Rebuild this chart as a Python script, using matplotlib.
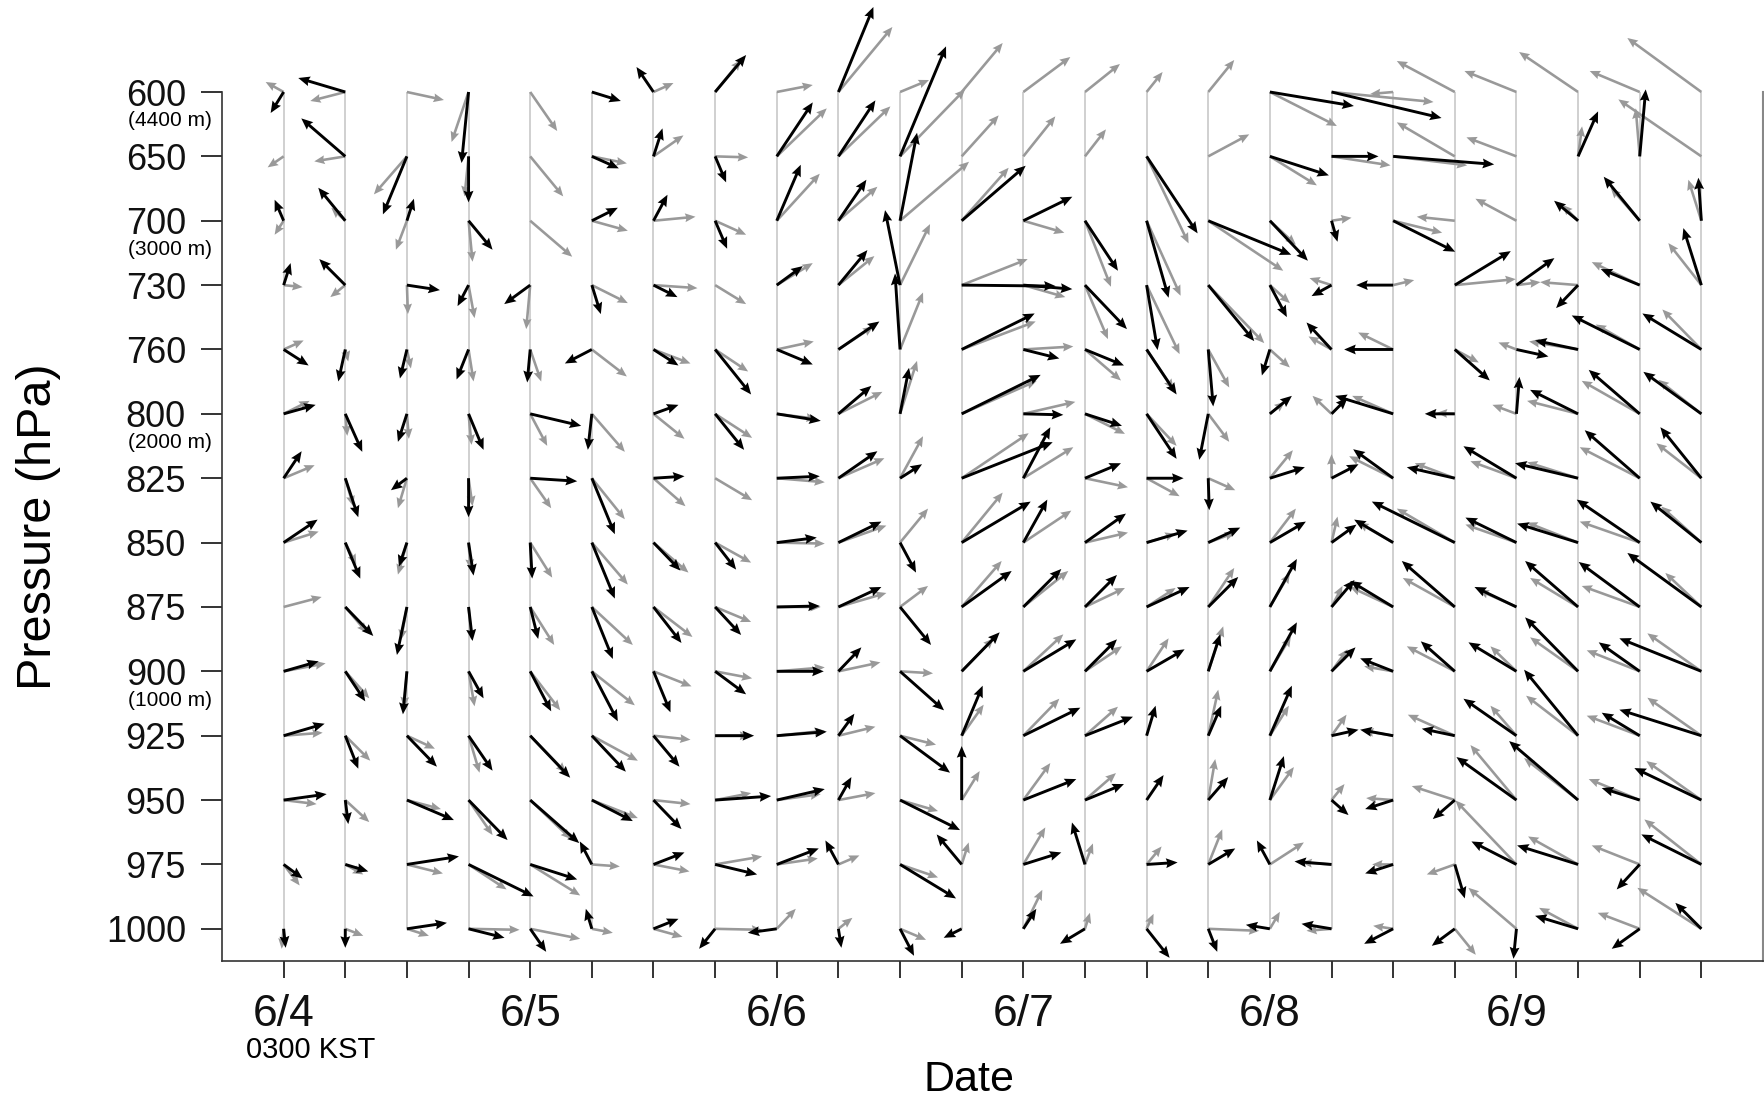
"""
Vertical profiles of wind vectors (black and gray arrows) every 6 hours,
6/4 0300 KST to 6/9 2100 KST, 600-1000 hPa.
"""

import numpy as np
import matplotlib
matplotlib.use("Agg")
import matplotlib.pyplot as plt

nan = np.nan

levels = [600, 650, 700, 730, 760, 800, 825, 850, 875, 900, 925, 950, 975, 1000]
height_notes = {600: "(4400 m)", 700: "(3000 m)", 800: "(2000 m)", 900: "(1000 m)"}
day_labels = ["6/4", "6/5", "6/6", "6/7", "6/8", "6/9"]
n_times = 24  # 6-hourly

# wind components, one row per time step, one value per level (600 -> 1000 hPa)
black_u = [
    [-13, nan, -9, 7, 25, 32, 18, 34, nan, 35, 41, 43, 19, 2],
    [-47, -44, -27, -26, -7, 17, 13, 15, 28, 20, 13, 3, 23, 0],
    [nan, -24, 7, 33, -7, -9, -16, -8, -10, -4, 30, 47, 52, 40],
    [-7, 0, 24, -11, -12, 15, 0, 5, 4, 15, 24, 39, 65, 36],
    [nan, nan, nan, -26, -3, 51, 47, 2, 8, 21, 40, 49, 47, 16],
    [29, 27, 26, 9, -27, -4, 23, 23, 21, 26, 34, 41, -12, -6],
    [-17, 9, 14, 24, 25, 25, 31, 27, 28, 17, 26, 28, 31, 25],
    [31, 11, 12, nan, 36, 29, nan, 21, 26, 31, 39, 56, 42, -16],
    [nan, 36, 24, 26, 36, 44, 43, 40, 43, 47, 50, 48, 42, -29],
    [35, 37, 28, 29, 41, 33, 39, 43, 43, 23, 16, 13, -13, 3],
    [nan, 46, 17, -15, -5, 9, 22, 16, 31, 44, 50, 60, 56, 14],
    [nan, nan, 64, 94, 73, 79, 91, 69, 50, 38, 21, 0, -25, -18],
    [nan, nan, 49, 49, 36, 40, 27, 24, 38, 53, 57, 53, 38, 13],
    [nan, nan, 33, 42, 39, 37, 36, 41, 32, 32, 48, 39, -13, -25],
    [nan, 51, 22, 11, 30, 30, 37, 41, 43, 38, 9, 17, 31, 23],
    [nan, nan, 83, 46, 5, -9, 1, 32, 30, 12, 13, 20, 27, 9],
    [84, 59, 38, 17, -8, 22, 35, 36, 27, 27, 22, 14, -13, -24],
    [110, 47, 6, -20, -25, 16, 27, 25, 23, 24, 27, 17, -37, -30],
    [nan, 101, 62, -37, -49, -58, -40, -39, -43, -33, -33, -28, -28, -29],
    [nan, nan, nan, 56, 35, -30, -48, -83, -53, -34, -33, -22, 10, -23],
    [nan, nan, nan, 38, 32, 3, -53, -51, -42, -48, -53, -60, -45, -3],
    [nan, 20, -24, -22, -43, -48, -63, -61, -53, -53, -54, -69, -61, -43],
    [nan, 6, -36, -39, -68, -51, -55, -63, -61, -41, -38, -38, -23, -28],
    [nan, nan, -3, -18, -59, -58, -41, -51, -74, -82, -82, -67, -60, -26],
]
black_v = [
    [-21, nan, 21, 22, -16, 9, 27, 23, nan, 10, 12, 6, -14, -19],
    [14, 38, 33, 26, -32, -38, -39, -36, -29, -30, -33, -24, -7, -19],
    [nan, -58, 22, -5, -29, -28, -12, -24, -48, -43, -31, -20, 8, 6],
    [-71, -46, -29, -21, -30, -36, -39, -33, -34, -27, -35, -40, -32, -9],
    [nan, nan, nan, -19, -33, -12, -3, -36, -32, -40, -42, -43, -15, -23],
    [-9, -12, 13, -29, -14, -36, -56, -56, -52, -50, -36, -21, 23, 20],
    [25, 28, 26, -12, -16, 9, 2, -28, -36, -41, -31, -29, 12, 10],
    [37, -26, -28, nan, -45, -36, nan, -27, -28, -23, 0, 4, -10, -20],
    [nan, 54, 56, 19, -15, -7, 2, 5, 1, 0, 4, 11, 16, -4],
    [85, 56, 41, 35, 28, 28, 27, 21, 20, 24, 22, 23, 24, -19],
    [nan, 110, 88, 75, 76, 46, 14, -30, -38, -39, -37, -30, -34, -27],
    [nan, nan, 55, -1, 36, 39, 36, 41, 36, 39, 50, 54, 30, -9],
    [nan, nan, 24, -4, -9, -1, 51, 43, 38, 32, 28, 21, 12, 20],
    [nan, nan, -50, -44, -16, -12, 15, 29, 32, 32, 19, 16, 42, -15],
    [nan, -77, -77, -65, -45, -45, 0, 12, 20, 22, 30, 25, 2, -29],
    [nan, nan, -34, -56, -57, -46, -32, 15, 30, 37, 30, 23, 16, -23],
    [-14, -19, -40, -32, -26, 18, 11, 21, 48, 49, 50, 44, 24, 4],
    [-26, 0, -21, -11, 27, 16, 14, 18, 27, 24, 6, -15, 3, 5],
    [nan, -8, -31, 0, 0, 18, 29, 23, 26, 13, 6, -9, -9, -15],
    [nan, nan, nan, 34, -31, 0, 11, 41, 46, 30, 7, -19, -34, -17],
    [nan, nan, nan, 27, -7, 37, 32, 25, 20, 29, 37, 43, 23, -30],
    [nan, 45, 20, -23, 9, 24, 15, 19, 46, 54, 66, 59, 19, 13],
    [nan, 67, 44, 16, 34, 44, 48, 43, 45, 29, 23, 12, -25, -20],
    [nan, nan, 43, 57, 36, 42, 51, 41, 54, 33, 26, 32, 30, 26],
]
gray_u = [
    [-18, -16, -9, 19, 20, 26, 31, 35, 38, 42, 39, 33, 16, -2],
    [-35, -31, -14, -15, 3, 2, 8, 11, 22, 24, 25, 24, 18, 18],
    [37, -33, -11, 1, 4, 2, -9, -9, -6, -3, 28, 34, 36, 22],
    [-17, -4, 4, 6, 5, 3, 4, 2, 3, 6, 11, 24, 38, 51],
    [27, 33, 42, -4, 11, 17, 21, 22, 24, 30, 36, 41, 50, 50],
    [nan, 35, 36, 36, 35, 33, 33, 36, 41, 43, 46, 46, 28, 21],
    [20, 30, 42, 44, 37, 31, 32, 35, 39, 38, 37, 37, 36, 29],
    [26, 33, 31, 31, 33, 37, 37, 36, 36, 37, 35, 36, 47, 47],
    [36, 50, 43, 36, 37, 40, 48, 48, 44, 48, 48, 44, 41, 19],
    [54, 52, 39, 36, 35, 44, 46, 48, 48, 42, 37, 37, 21, 14],
    [29, 65, 69, 30, 23, 17, 23, 28, 28, 33, 36, 38, 38, 26],
    [41, 37, 47, 66, 74, 75, 67, 41, 40, 32, 22, 18, 7, nan],
    [47, 32, 41, 42, 50, 52, 50, 48, 45, 40, 36, 27, 22, 19],
    [35, 21, 26, 23, 36, 40, 43, 43, 40, 37, 33, 31, 8, 5],
    [16, 42, 34, 33, 27, 30, 33, 29, 29, 22, nan, nan, 15, 7],
    [26, 41, 75, 56, 21, 21, 27, 27, 26, 15, 10, 7, 14, 51],
    [67, 47, 26, 20, 20, 15, 23, 26, 20, 21, 19, 24, 34, 10],
    [102, 59, 20, -22, -23, -19, 0, 6, 11, 16, 15, 13, -30, -25],
    [-23, 74, 49, 21, -35, -41, -44, -35, -43, -29, -30, -27, -21, -20],
    [-58, -58, -38, 61, 24, -18, -40, -58, -52, -48, -47, -43, -28, 21],
    [-52, -50, -41, 24, -18, -24, -46, -51, -38, -26, -26, -46, -61, -48],
    [-59, 4, -16, -38, -49, -51, -51, -51, -48, -48, -52, -54, -50, -39],
    [-50, -4, -29, -48, -44, -58, -60, -60, -58, -53, -53, -51, -48, -42],
    [-74, -83, -13, -33, -39, -43, -45, -40, -36, -54, -54, -55, -57, -64],
]
gray_v = [
    [10, -11, -14, -2, 9, 13, 13, 11, 10, 8, 3, -4, -21, -20],
    [-9, -5, 13, -12, -12, -22, -28, -22, -26, -27, -25, -22, -10, -7],
    [-8, -38, -29, -29, -19, -25, -30, -32, -33, -36, -13, -9, -9, -7],
    [-50, -40, -41, -33, -32, -31, -28, -27, -33, -35, -37, -35, -25, -1],
    [-39, -40, -36, -44, -32, -32, -30, -35, -38, -39, -37, -39, -31, -10],
    [nan, -7, -10, -18, -27, -38, -41, -42, -38, -34, -25, -18, -2, -4],
    [9, 21, 4, -3, -14, -25, -28, -30, -30, -15, -4, -4, -7, -8],
    [32, -1, -14, -19, -22, -24, -22, -20, -15, -7, 0, 7, 8, -1],
    [7, 48, 47, 22, 8, -5, -4, -1, 0, 4, 5, 6, 6, 20],
    [65, 50, 34, 29, 23, 22, 20, 17, 14, 9, 9, 7, 9, 11],
    [12, 67, 59, 61, 57, 53, 42, 34, 21, -2, -9, -11, -13, -11],
    [49, 41, 53, 26, 28, 33, 45, 50, 46, 33, 31, 29, 22, nan],
    [35, 40, -12, -12, 3, 12, 31, 32, 36, 37, 37, 37, 37, 39],
    [28, 27, -66, -54, -31, -20, -9, 10, 19, 25, 29, 27, 21, 16],
    [20, -87, -75, -69, -40, -32, -18, 9, 19, 33, nan, nan, 18, 15],
    [32, 22, -50, -58, -38, -28, -12, 10, 39, 45, 46, 41, 35, -2],
    [-34, -29, -24, -18, -18, 12, 28, 34, 34, 35, 30, 33, 22, 17],
    [-10, -9, 3, 7, 13, 18, 24, 26, 21, 22, 21, 16, 2, -2],
    [-2, -9, -12, 5, 17, 18, 22, 20, 20, 5, 5, 2, 0, 3],
    [31, 34, 4, 6, -13, 1, 15, 34, 29, 25, 21, 14, -10, -26],
    [21, 19, 22, 3, 7, 9, 17, 18, 17, 25, 30, 55, 64, 41],
    [40, 30, 16, 3, 8, 13, 16, 20, 29, 34, 40, 42, 28, 21],
    [21, 48, 33, 23, 25, 33, 31, 21, 21, 21, 20, 21, 19, 16],
    [54, 57, 41, 42, 40, 34, 35, 36, 34, 38, 38, 39, 45, 41],
]


def draw_arrows(ax, u, v, color, shaft, zorder):
    """Draws one set of wind arrows at every (time, level) point."""
    u = np.array(u, dtype=float)
    v = np.array(v, dtype=float)
    t, k = np.meshgrid(np.arange(n_times), np.arange(len(levels)), indexing="ij")
    ok = np.isfinite(u) & np.isfinite(v)
    ax.quiver(t[ok], k[ok], u[ok], v[ok], color=color,
              angles="uv", scale_units="dots", scale=1, units="dots",
              width=shaft, headwidth=3.4, headlength=4.0, headaxislength=3.6,
              pivot="tail", clip_on=False, zorder=zorder)


def main():
    plt.rcParams["font.family"] = ["Liberation Sans", "DejaVu Sans"]
    fig = plt.figure(figsize=(17.64, 11.03), dpi=100)
    ax = fig.add_axes([222 / 1764, 1 - 961 / 1103, (1763 - 222) / 1764, (961 - 92) / 1103])

    # thin gray profile lines
    ax.vlines(np.arange(n_times), 0, len(levels) - 1, color="#c4c4c4", lw=1.1, zorder=1)

    draw_arrows(ax, gray_u, gray_v, "#999999", 2.6, 2)
    draw_arrows(ax, black_u, black_v, "black", 2.9, 3)

    ax.set_xlim(-1, n_times)
    ax.set_ylim(len(levels) - 0.5, 0)

    ax.set_yticks(range(len(levels)))
    ax.set_yticklabels([str(p) for p in levels], fontsize=26)
    ax.tick_params(axis="y", length=15, width=1.2, pad=11, colors="#111111")

    xlabels = []
    for i in range(n_times):
        xlabels.append(day_labels[i // 4] if i % 4 == 0 else "")
    ax.set_xticks(range(n_times))
    ax.set_xticklabels(xlabels, fontsize=32)
    ax.tick_params(axis="x", length=12, width=1.2, pad=12, colors="#111111")

    yaxis_tr = ax.get_yaxis_transform()
    for k, p in enumerate(levels):
        if p in height_notes:
            ax.annotate(height_notes[p], xy=(0, k), xycoords=yaxis_tr,
                        xytext=(-52, -29), textcoords="offset pixels",
                        ha="center", va="center", fontsize=15)
    ax.annotate("0300 KST", xy=(0, 0), xycoords=ax.get_xaxis_transform(),
                xytext=(-38, -89), textcoords="offset pixels",
                ha="left", va="center", fontsize=21)

    ax.set_ylabel("Pressure (hPa)", fontsize=35)
    ax.yaxis.set_label_coords(-0.119, 0.5)
    ax.yaxis.label.set_va("center")
    ax.set_xlabel("Date", fontsize=31)
    ax.xaxis.set_label_coords(0.485, -0.137)
    ax.xaxis.label.set_va("center")

    ax.spines["top"].set_visible(False)
    ax.spines["right"].set_color("#888888")
    ax.spines["right"].set_linewidth(1.5)
    for side in ("left", "bottom"):
        ax.spines[side].set_color("#333333")
        ax.spines[side].set_linewidth(1.2)

    fig.savefig("out.png", dpi=100)


if __name__ == "__main__":
    main()
